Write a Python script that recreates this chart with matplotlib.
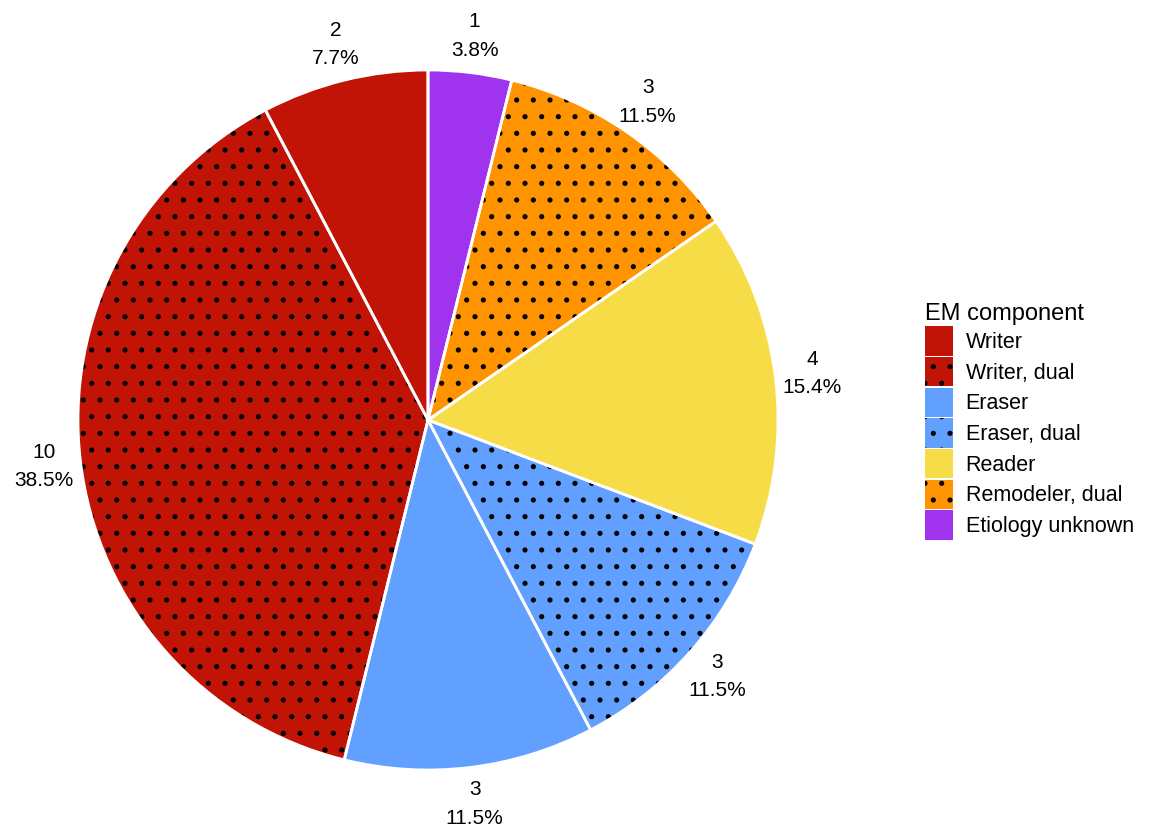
import matplotlib
matplotlib.use('Agg')
import matplotlib.pyplot as plt
from matplotlib.patches import Patch

plt.rcParams['font.family'] = ['Liberation Sans', 'DejaVu Sans']
plt.rcParams['hatch.linewidth'] = 1.3

# Data (clockwise from 12 o'clock)
components = ['Etiology unknown', 'Remodeler, dual', 'Reader', 'Eraser, dual',
              'Eraser', 'Writer, dual', 'Writer']
counts = [1, 3, 4, 3, 3, 10, 2]
colors = ['#A033EE', '#FF9400', '#F6DD47', '#62A0FF', '#62A0FF', '#C11407', '#C11407']
hatches = ['', '.', '', '.', '', '.', '']
legend_order = ['Writer', 'Writer, dual', 'Eraser', 'Eraser, dual', 'Reader',
                'Remodeler, dual', 'Etiology unknown']

total = sum(counts)
labels = ['%d\n%.1f%%' % (c, 100 * c / total) for c in counts]

fig = plt.figure(figsize=(11.49, 8.31), dpi=100)
ax = fig.add_axes([78 / 1149, 1 - 770 / 831, 700 / 1149, 700 / 831])

# filled wedges with black dot hatching
wedges, texts = ax.pie(counts, colors=colors, startangle=90, counterclock=False,
                       labels=labels, labeldistance=1.105,
                       wedgeprops=dict(edgecolor='black', linewidth=0),
                       textprops=dict(fontsize=15, ha='center', va='center',
                                      linespacing=1.65))
for w, h in zip(wedges, hatches):
    w.set_hatch(h)

# white outlines on top
outl, _ = ax.pie(counts, startangle=90, counterclock=False,
                 wedgeprops=dict(facecolor='none', edgecolor='white', linewidth=2))

ax.set_xlim(-1, 1)
ax.set_ylim(-1, 1)
ax.set_aspect('equal')

handles = []
for n in legend_order:
    i = components.index(n)
    handles.append(Patch(facecolor=colors[i], hatch=hatches[i],
                         edgecolor='black', linewidth=0))
leg = fig.legend(handles, legend_order, title='EM component', loc='center left',
                 bbox_to_anchor=(0.803, 0.493), frameon=False, fontsize=15.5,
                 title_fontsize=17, handlelength=1.3, handleheight=1.72,
                 labelspacing=0.06, handletextpad=0.6, alignment='left',
                 borderpad=0.1, borderaxespad=0.0)

fig.savefig('out.png', dpi=100)
